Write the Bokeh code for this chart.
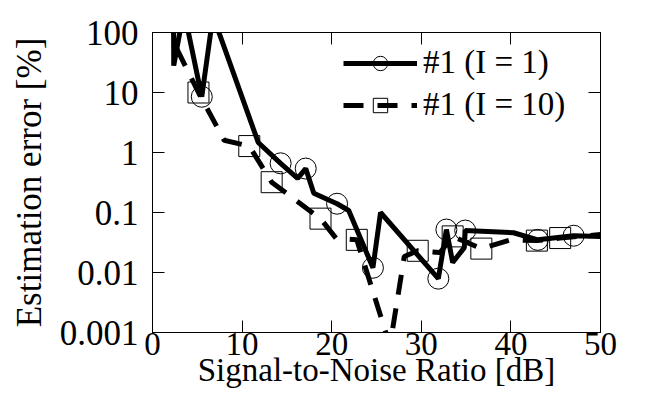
from bokeh.plotting import figure
from bokeh.models import (Range1d, FixedTicker, CustomJSTickFormatter, LinearAxis, LogAxis,
                          Legend, LegendItem, ColumnDataSource)
from bokeh.embed import file_html
from bokeh.resources import INLINE

# ---- data ----
snr_i1 = [2.33, 2.37, 3.5, 5.5, 6.75, 11.8, 14.3, 16.2, 17.1, 18.0, 20.6, 21.9, 24.6, 25.45,
          31.9, 32.8, 33.5, 34.8, 34.9, 40.3, 43.0, 47.0, 50.0]
err_i1 = [1000, 28, 233, 8.5, 190, 1.47, 0.66, 0.37, 0.54, 0.21, 0.14, 0.108, 0.012, 0.1,
          0.0079, 0.052, 0.0147, 0.026, 0.05, 0.046, 0.035, 0.041, 0.04]
marks_i1 = [3, 6, 8, 10, 12, 14, 15, 18, 20, 21]

snr_i10 = [2.3, 2.37, 5.13, 8.0, 10.8, 13.3, 18.75, 20.5, 22.8, 26.5, 28.1, 29.6, 32.1, 33.5,
           36.7, 40.0, 42.9, 45.5, 50.0]
err_i10 = [735, 68, 10, 1.6, 1.28, 0.32, 0.079, 0.037, 0.035, 0.0006, 0.0185, 0.023, 0.0215,
           0.04, 0.025, 0.035, 0.034, 0.0375, 0.043]
marks_i10 = [2, 4, 5, 6, 8, 11, 13, 14, 16, 17]

x_ticks = [0, 10, 20, 30, 40, 50]
y_ticks = [0.001, 0.01, 0.1, 1, 10, 100]
label_1 = "#1 (I = 1)"
label_10 = "#1 (I = 10)"
x_title = "Signal-to-Noise Ratio [dB]"
y_title = "Estimation error [%]"

FONT = "Liberation Serif"
FS = "33px"
FSY = "35px"

p = figure(width=646, height=412, output_backend="svg", toolbar_location=None,
           y_axis_type="log", x_range=Range1d(0, 50), y_range=Range1d(0.001, 100),
           min_border_left=152, min_border_right=46, min_border_top=32, min_border_bottom=80)
p.xgrid.visible = False
p.ygrid.visible = False
p.outline_line_color = "black"
p.outline_line_width = 1
p.background_fill_color = "white"
p.border_fill_color = "white"

fmt = CustomJSTickFormatter(code="return String(tick);")
blank = CustomJSTickFormatter(code="return '';")

def style(ax, fs=FS):
    ax.major_tick_in = 12
    ax.major_tick_out = 0
    ax.minor_tick_line_color = None
    ax.major_tick_line_color = "black"
    ax.major_tick_line_width = 1
    ax.axis_line_color = "black"
    ax.axis_line_width = 1
    ax.major_label_text_font = FONT
    ax.major_label_text_font_size = fs
    ax.major_label_text_color = "black"
    ax.axis_label_text_font = FONT
    ax.axis_label_text_font_size = fs
    ax.axis_label_text_font_style = "normal"
    ax.axis_label_text_color = "black"

xa = p.xaxis[0]
xa.ticker = FixedTicker(ticks=x_ticks)
xa.formatter = fmt
style(xa)
xa.axis_label = x_title
xa.major_label_standoff = 0
xa.axis_label_standoff = -6

ya = p.yaxis[0]
ya.ticker = FixedTicker(ticks=y_ticks)
ya.formatter = fmt
style(ya, FSY)
ya.axis_label = y_title
ya.major_label_standoff = 14
ya.axis_label_standoff = 8
ya.major_label_text_baseline = "alphabetic"

top = LinearAxis(ticker=FixedTicker(ticks=x_ticks), formatter=blank)
style(top)
p.add_layout(top, "above")
right = LogAxis(ticker=FixedTicker(ticks=y_ticks), formatter=blank)
style(right)
p.add_layout(right, "right")

src1 = ColumnDataSource(dict(x=snr_i1, y=err_i1))
src1m = ColumnDataSource(dict(x=[snr_i1[i] for i in marks_i1], y=[err_i1[i] for i in marks_i1]))
src10 = ColumnDataSource(dict(x=snr_i10, y=err_i10))
src10m = ColumnDataSource(dict(x=[snr_i10[i] for i in marks_i10], y=[err_i10[i] for i in marks_i10]))

l1 = p.line("x", "y", source=src1, line_color="black", line_width=5)
m1 = p.scatter("x", "y", source=src1m, marker="circle", size=21, fill_color=None,
               line_color="black", line_width=1)
l10 = p.line("x", "y", source=src10, line_color="black", line_width=5, line_dash="20 14")
m10 = p.scatter("x", "y", source=src10m, marker="square", size=21, fill_color=None,
                line_color="black", line_width=1)

legend = Legend(items=[LegendItem(label=label_1, renderers=[l1, m1]),
                       LegendItem(label=label_10, renderers=[l10, m10])],
                location=(191, 209))
legend.label_text_font = FONT
legend.label_text_font_size = FS
legend.label_text_font_style = "normal"
legend.label_text_color = "black"
legend.glyph_width = 74
legend.glyph_height = 36
legend.label_height = 36
legend.label_standoff = 6
legend.spacing = 5
legend.padding = 0
legend.margin = 0
legend.background_fill_alpha = 0
legend.border_line_alpha = 0
p.add_layout(legend)

open("out.html", "w").write(file_html(p, INLINE))
